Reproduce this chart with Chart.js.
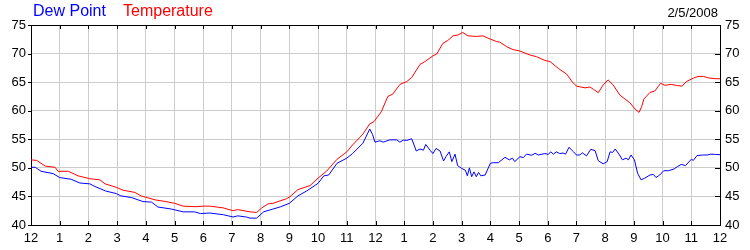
<!DOCTYPE html>
<html>
<head>
<meta charset="utf-8">
<script src="https://cdn.jsdelivr.net/npm/chart.js@4/dist/chart.umd.min.js"></script>
<style>
  body { margin: 0; background: #fff; }
  #wrap { position: relative; width: 750px; height: 250px; font-family: "Liberation Sans", Arial, sans-serif; }
  .lbl { position: absolute; white-space: nowrap; }
  #dew { left: 33px; top: 2px; font-size: 16px; color: #0000ff; }
  #temp { left: 123px; top: 2px; font-size: 16px; color: #ff0000; }
  #date { right: 32px; top: 5px; font-size: 13px; color: #000; }
</style>
</head>
<body>
<div id="wrap">
  <canvas id="chart" width="750" height="250"></canvas>
  <span class="lbl" id="dew">Dew Point</span>
  <span class="lbl" id="temp">Temperature</span>
  <span class="lbl" id="date">2/5/2008</span>
</div>
<script>
// hours since midnight
const tempHours = [0, 0.2, 0.5, 0.84, 0.94, 1.3, 1.64, 2.05, 2.4, 2.58, 2.97, 3.2, 3.62, 3.83, 4.32, 4.7, 5.0, 5.3, 5.75, 6.0,
  6.23, 6.69, 7.04, 7.2, 7.63, 7.86, 8.04, 8.26, 8.43, 8.9, 9.02, 9.3, 9.72, 10.0, 10.3, 10.66, 11.0, 11.2, 11.56, 11.8,
  11.95, 12.2, 12.43, 12.6, 12.85, 13.09, 13.26, 13.55, 13.72, 14.0, 14.13, 14.35, 14.52, 14.7, 14.87, 15.04, 15.22, 15.52, 15.74, 15.99,
  16.22, 16.33, 16.57, 16.79, 17.03, 17.38, 17.61, 17.9, 18.08, 18.37, 18.66, 18.83, 19.0, 19.3, 19.47, 19.59, 19.76, 19.93, 20.1, 20.28,
  20.51, 20.69, 20.86, 21.04, 21.18, 21.27, 21.35, 21.56, 21.73, 21.93, 22.08, 22.3, 22.53, 22.68, 22.83, 23.07, 23.24, 23.42, 23.59, 23.83, 24.0]
const tempValues = [51.4, 51.3, 50.3, 50.1, 49.4, 49.4, 48.6, 48.1, 47.9, 47.2, 46.6, 46.1, 45.7, 45.1, 44.4, 44.1, 43.8, 43.3, 43.2, 43.3,
  43.3, 43.0, 42.5, 42.7, 42.3, 42.2, 43.0, 43.7, 43.8, 44.6, 44.95, 46.2, 46.9, 48.2, 49.45, 51.5, 52.8, 54.0, 55.9, 57.7,
  58.1, 59.8, 62.5, 62.9, 64.6, 65.1, 65.8, 68.1, 68.6, 69.6, 69.9, 71.8, 72.3, 73.1, 73.25, 73.7, 73.1, 73.0, 73.1, 72.55,
  72.1, 72.0, 71.2, 70.7, 70.45, 69.75, 69.45, 68.8, 68.6, 67.4, 66.4, 65.2, 64.3, 64.0, 64.15, 63.75, 63.15, 64.5, 65.4, 64.5,
  62.75, 62.05, 61.4, 60.3, 59.7, 60.7, 62.05, 63.2, 63.45, 64.8, 64.45, 64.6, 64.4, 64.3, 65.1, 65.7, 66.0, 66.0, 65.75, 65.6, 65.6]

const dewHours = [0, 0.15, 0.35, 0.77, 1.0, 1.4, 1.7, 2.05, 2.2, 2.6, 2.97, 3.13, 3.5, 3.9, 4.2, 4.42, 4.88, 5.3, 5.7, 5.9,
  6.23, 6.7, 7.04, 7.2, 7.5, 7.63, 7.86, 8.1, 8.4, 8.7, 9.0, 9.3, 9.6, 10.0, 10.2, 10.37, 10.66, 11.0, 11.2, 11.56,
  11.8, 11.9, 11.98, 12.15, 12.27, 12.5, 12.74, 12.85, 12.97, 13.09, 13.26, 13.42, 13.55, 13.67, 13.75, 13.9, 14.0, 14.11, 14.25, 14.37,
  14.46, 14.57, 14.66, 14.77, 14.86, 15.0, 15.13, 15.2, 15.27, 15.35, 15.43, 15.51, 15.59, 15.67, 15.82, 16.0, 16.1, 16.28, 16.51, 16.66,
  16.77, 16.85, 17.03, 17.15, 17.26, 17.44, 17.56, 17.67, 17.9, 18.02, 18.1, 18.2, 18.3, 18.42, 18.53, 18.62, 18.74, 18.9, 19.0, 19.12,
  19.2, 19.35, 19.5, 19.65, 19.76, 19.93, 20.07, 20.17, 20.26, 20.35, 20.5, 20.6, 20.73, 20.81, 20.9, 21.02, 21.13, 21.25, 21.38, 21.56,
  21.68, 21.77, 21.9, 22.04, 22.2, 22.4, 22.51, 22.65, 22.8, 23.0, 23.07, 23.2, 23.39, 23.56, 23.68, 23.85, 24.0]
const dewValues = [50.1, 50.1, 49.4, 49.0, 48.3, 48.0, 47.35, 47.2, 46.8, 45.95, 45.5, 45.1, 44.8, 44.1, 44.0, 43.15, 42.8, 42.3, 42.3, 42.0,
  42.1, 41.8, 41.4, 41.6, 41.4, 41.2, 41.2, 42.3, 42.75, 43.2, 43.8, 45.1, 45.95, 47.3, 48.6, 48.75, 50.8, 51.7, 52.5, 54.3,
  56.8, 55.8, 54.5, 54.75, 54.5, 54.9, 54.9, 54.5, 54.85, 54.8, 55.1, 52.95, 53.3, 53.1, 54.1, 53.1, 52.5, 53.4, 52.95, 51.2,
  52.0, 52.8, 51.1, 52.4, 50.4, 49.9, 49.6, 48.6, 50.0, 48.45, 49.3, 48.45, 49.2, 48.6, 48.75, 50.8, 50.9, 50.9, 51.85, 51.4,
  51.7, 51.1, 51.95, 51.8, 52.4, 52.2, 52.55, 52.25, 52.5, 52.35, 52.8, 52.4, 52.8, 52.5, 52.6, 52.4, 53.6, 52.8, 52.25, 52.25,
  52.65, 52.1, 53.25, 53.0, 51.25, 50.7, 51.1, 52.8, 52.7, 53.3, 52.25, 51.4, 51.7, 51.4, 52.25, 51.4, 49.05, 47.9, 48.2, 48.75,
  48.85, 48.3, 48.75, 49.5, 49.5, 49.8, 50.2, 50.6, 50.4, 51.5, 51.3, 52.15, 52.25, 52.25, 52.4, 52.35, 52.3]

const hourLabels = ['12', '1', '2', '3', '4', '5', '6', '7', '8', '9', '10', '11',
  '12', '1', '2', '3', '4', '5', '6', '7', '8', '9', '10', '11', '12']
const yMin = 40, yMax = 75, yStep = 5

const toPoints = (xs, ys) => xs.map((x, i) => ({ x, y: ys[i] }))
const tickFont = { family: '"Liberation Sans", Arial, sans-serif', size: 13 }

// frame on top + small black tick marks like the original
const frameTicks = {
    id: 'frameTicks',
    afterDraw(chart) {
        const { ctx, chartArea: a, scales } = chart
        ctx.save()
        ctx.strokeStyle = '#000'
        ctx.lineWidth = 1
        ctx.beginPath()
        ctx.moveTo(a.left, Math.round(a.top) + 0.5)
        ctx.lineTo(a.right, Math.round(a.top) + 0.5)
        for (let h = 0; h <= 24; h++) {
            const px = Math.round(scales.x.getPixelForValue(h)) + 0.5
            ctx.moveTo(px, a.top)
            ctx.lineTo(px, a.top + 4)
            ctx.moveTo(px, a.bottom)
            ctx.lineTo(px, a.bottom - 4)
        }
        for (let v = yMin; v <= yMax; v += yStep) {
            const py = Math.round(scales.y.getPixelForValue(v)) + 0.5
            ctx.moveTo(a.left - 3, py)
            ctx.lineTo(a.left, py)
            ctx.moveTo(a.right, py)
            ctx.lineTo(a.right - 5, py)
        }
        ctx.stroke()
        ctx.restore()
    }
}

new Chart(document.getElementById('chart'), {
    type: 'line',
    data: {
        datasets: [
            {
                label: 'Dew Point',
                data: toPoints(dewHours, dewValues),
                borderColor: '#0000ff',
                borderWidth: 1,
                pointRadius: 0,
                tension: 0,
            },
            {
                label: 'Temperature',
                data: toPoints(tempHours, tempValues),
                borderColor: '#ff0000',
                borderWidth: 1,
                pointRadius: 0,
                tension: 0,
            },
        ],
    },
    options: {
        responsive: false,
        animation: false,
        layout: { padding: { top: 25, left: 0, right: 0, bottom: 0 } },
        plugins: {
            legend: { display: false },
            tooltip: { enabled: false },
        },
        scales: {
            x: {
                type: 'linear',
                min: 0,
                max: 24,
                afterFit: s => { s.height = 25 },
                grid: { color: '#cccccc', drawTicks: false },
                border: { display: true, color: '#000' },
                ticks: {
                    stepSize: 1,
                    autoSkip: false,
                    maxRotation: 0,
                    padding: 6,
                    color: '#000',
                    font: tickFont,
                    callback: v => hourLabels[v],
                },
            },
            y: {
                position: 'left',
                min: yMin,
                max: yMax,
                afterFit: s => { s.width = 31 },
                grid: { color: '#cccccc', drawTicks: false },
                border: { display: true, color: '#000' },
                ticks: { stepSize: yStep, padding: 5, color: '#000', font: tickFont },
            },
            y2: {
                position: 'right',
                min: yMin,
                max: yMax,
                afterFit: s => { s.width = 30 },
                grid: { display: false, drawTicks: false },
                border: { display: true, color: '#000' },
                ticks: { stepSize: yStep, padding: 5, color: '#000', font: tickFont },
            },
        },
    },
    plugins: [frameTicks],
})
</script>
</body>
</html>
